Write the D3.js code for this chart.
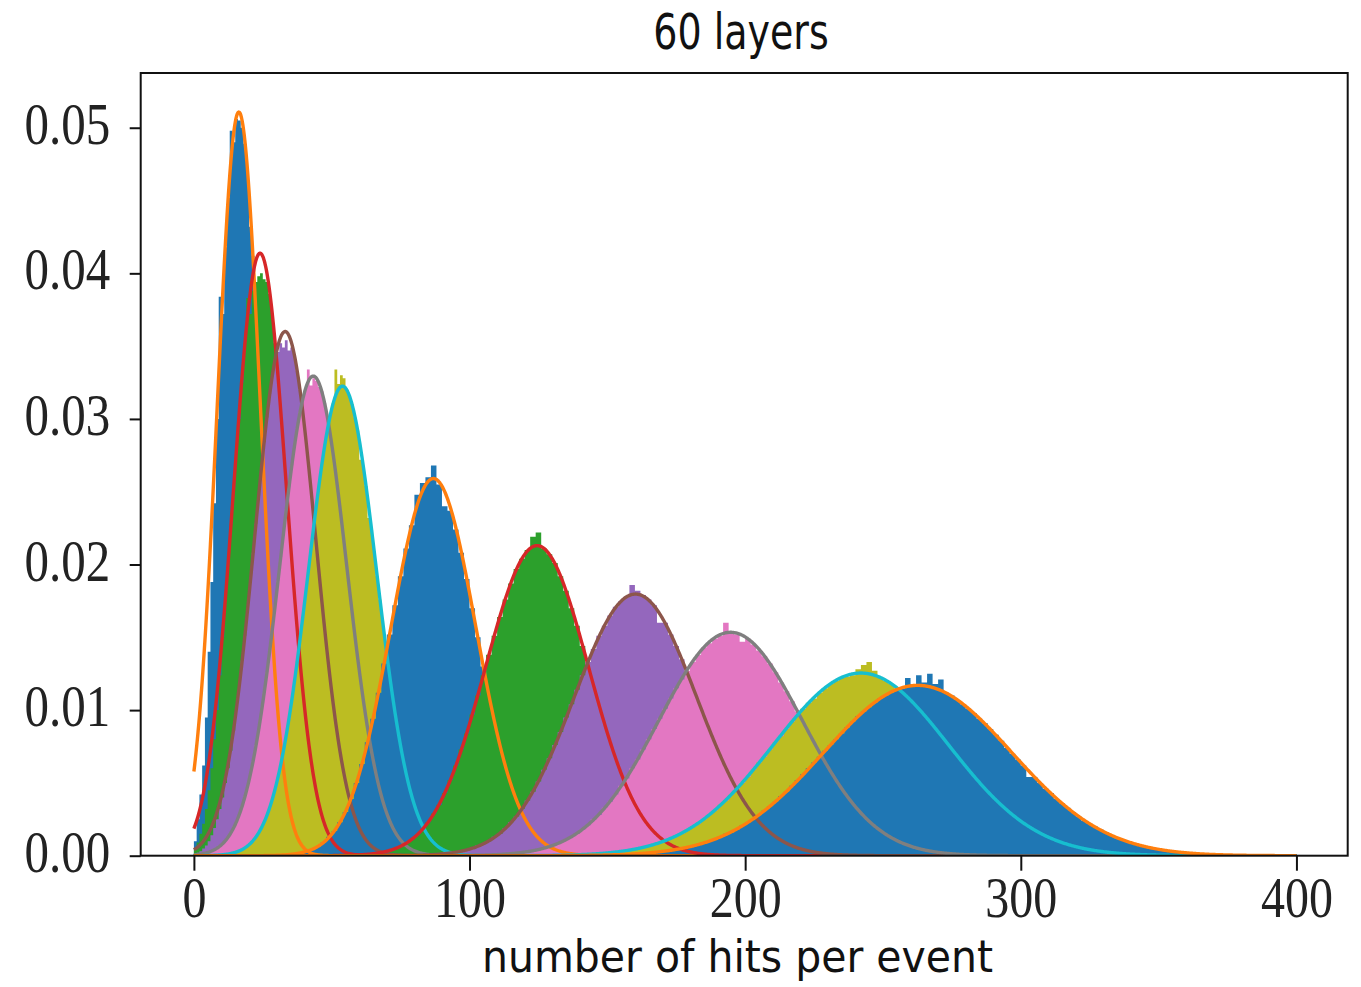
<!DOCTYPE html>
<html>
<head>
<meta charset="utf-8">
<script src="https://cdn.jsdelivr.net/npm/d3@7"></script>
<style>
  body { margin: 0; background: #fff; }
  svg { display: block; }
</style>
</head>
<body>
<svg id="chart" width="1361" height="987"></svg>
<script>
// Hit-count distributions for 60 layers: one histogram and one Gaussian fit per sample.
const titleText = "60 layers";
const xLabelText = "number of hits per event";
const xTicks = [0, 100, 200, 300, 400];
const yTicks = [0, 0.01, 0.02, 0.03, 0.04, 0.05];

const histColors = ["#1f77b4", "#2ca02c", "#9467bd", "#e377c2", "#bcbd22",
                    "#1f77b4", "#2ca02c", "#9467bd", "#e377c2", "#bcbd22", "#1f77b4"];
const fitColors  = ["#ff7f0e", "#d62728", "#8c564b", "#7f7f7f", "#17becf",
                    "#ff7f0e", "#d62728", "#8c564b", "#7f7f7f", "#17becf", "#ff7f0e"];

// Histogram bin layout: first bin edge and bin width (hits)
const histStart = [0, 0, 0, 0, 10, 34, 62, 86, 106, 136, 150];
const histWidth = [1, 1, 1, 1, 1, 2, 2, 2, 2, 2, 2];

// Normalised bin heights, in units of 1e-4
const hist1 = [10,25,42,62,95,140,188,242,300,384,372,418,452,498,490,506,505,500,489,470,
  432,412,370,336,292,258,215,185,150,125,97,78,58,46,33,26,18,13,9,6,4,3,2,1,1];
const hist2 = [5,9,15,22,32,45,60,80,100,124,150,176,202,228,252,278,300,325,352,383,
  372,388,394,398,400,396,394,386,372,352,330,306,283,255,231,204,180,156,135,115,
  97,81,67,54,44,35,28,22,17,13,10,7,5,4,3,2,1,1];
const hist3 = [1,2,3,5,7,10,14,19,25,32,40,50,60,72,86,101,
  117,134,151,169,189,208,228,247,266,284,301,317,330,341,346,352,
  349,354,347,349,343,333,320,305,288,270,251,232,212,192,173,155,
  137,120,105,91,78,66,56,47,39,32,26,21,17,13,11,8,
  6,5,4,3,2,2,1];
const hist4 = [0,1,1,1,2,3,3,4,5,7,8,10,13,16,20,24,
  29,34,41,48,56,65,76,87,99,112,126,141,156,172,189,205,
  222,238,253,268,282,294,305,314,321,334,323,328,326,322,319,311,
  301,289,277,262,247,231,215,199,182,166,150,135,120,107,94,82,
  71,62,53,45,38,32,27,22,18,15,12,10,8,6,5,4,
  3,3,2,2,1,1];
const hist5 = [1,1,1,2,2,3,3,4,5,7,8,10,13,16,19,23,
  28,33,39,46,54,63,72,83,94,107,120,134,149,164,180,195,
  211,227,242,256,270,283,294,303,311,334,324,330,328,320,316,310,
  301,292,272,267,254,232,224,208,192,176,161,146,131,117,104,92,
  81,70,61,52,45,38,32,27,22,18,15,12,10,8,6,5,
  4,3,3,2,2,1,1];
const hist6 = [1,1,2,3,4,6,9,13,
  17,23,30,39,50,63,78,94,
  112,132,152,172,192,211,227,248,
  256,260,268,255,240,237,224,208,
  190,170,150,130,111,92,76,62,
  49,38,30,22,17,12,9,6,
  4,3,2,1,1,1];
const hist7 = [1,1,2,3,4,5,6,9,
  11,14,18,23,29,35,43,52,
  62,73,84,97,110,124,138,151,
  164,176,187,197,204,210,219,222,
  211,207,201,192,182,170,158,144,
  131,117,104,91,78,67,57,47,
  39,32,26,21,16,13,10,7,
  6,4,3,2,2,1,1];
const hist8 = [1,1,1,2,2,3,4,5,
  7,8,10,13,15,19,23,27,
  32,38,44,51,59,67,76,85,
  95,104,114,124,133,142,151,158,
  165,171,175,178,186,182,179,176,
  172,160,160,152,144,135,126,116,
  106,96,87,78,69,60,53,46,
  39,33,28,23,20,16,13,11,
  9,7,5,4,3,3,2,2,
  1,1,1];
const hist9 = [1,1,1,1,1,2,2,3,
  3,4,5,6,8,9,11,13,
  15,18,21,25,28,33,37,42,
  48,53,60,66,73,80,87,94,
  101,108,115,121,127,133,138,143,
  146,149,151,160,153,152,147,149,
  145,141,137,132,126,119,113,106,
  99,92,85,78,71,64,58,52,
  46,41,36,31,27,24,20,17,
  15,12,10,9,7,6,5,4,
  3,3,2,2,1,1,1,1,0];
const hist10 = [1,1,1,1,1,1,2,2,
  2,3,4,4,5,6,7,8,
  9,10,12,14,15,18,20,22,
  25,28,31,35,38,42,46,50,
  54,59,64,68,73,78,82,87,
  92,96,101,105,108,112,115,118,
  120,122,123,124,128,131,133,127,
  122,120,118,115,112,108,105,101,
  96,92,87,82,78,73,68,64,
  59,54,50,46,42,38,35,31,
  28,25,22,20,18,15,14,12,
  10,9,8,7,6,5,4,4,
  3,2,2,2,1,1,1,1,0,0,0];
const hist11 = [1,1,1,1,1,1,2,2,
  2,3,3,4,4,5,6,7,
  8,9,10,11,13,15,16,18,
  21,23,25,28,31,34,37,41,
  44,48,52,56,60,64,68,72,
  76,80,84,88,92,96,99,102,
  105,108,110,112,114,115,122,118,
  124,119,125,118,121,112,110,107,
  104,101,98,94,91,87,83,79,
  74,70,66,62,54,54,50,46,
  43,39,36,33,30,27,24,22,
  20,18,16,14,12,11,10,8,
  7,6,5,5,4,3,3,3,
  2,2,2,1,1,1,1,1,0,0,0];
const histValues = [hist1, hist2, hist3, hist4, hist5, hist6, hist7, hist8, hist9, hist10, hist11];
const histUnit = 1e-4;

// Gaussian fit parameters for each sample (mean, standard deviation in hits)
const fitMean  = [16.3, 24.0, 33.1, 43.3, 53.9, 86.9, 124.5, 160.2, 194.7, 242.0, 262.6];
const fitSigma = [7.81, 9.64, 11.08, 12.11, 12.37, 15.4, 18.73, 22.2, 26.0, 31.8, 34.1];
const fitRange = [0, 400];

// ---- layout ----
const plot = { left: 140.7, right: 1347.7, top: 73, bottom: 855.7 };
const svg = d3.select("#chart");

const x = d3.scaleLinear().domain([-19.3, 418.6]).range([plot.left, plot.right]);
const y = d3.scaleLinear().domain([0, 0.05376]).range([plot.bottom, plot.top]);

svg.append("defs").append("clipPath").attr("id", "plot-clip")
  .append("rect")
  .attr("x", plot.left).attr("y", plot.top)
  .attr("width", plot.right - plot.left).attr("height", plot.bottom - plot.top);

const marks = svg.append("g").attr("clip-path", "url(#plot-clip)");

// ---- histograms (filled step areas) ----
const stepArea = d3.area()
  .x(d => x(d.edge))
  .y0(y(0))
  .y1(d => y(d.value))
  .curve(d3.curveStepAfter);

histValues.forEach((vals, s) => {
  const pts = vals.map((v, i) => ({ edge: histStart[s] + i * histWidth[s], value: v * histUnit }));
  pts.push({ edge: histStart[s] + vals.length * histWidth[s], value: vals[vals.length - 1] * histUnit });
  marks.append("path")
    .attr("d", stepArea(pts))
    .attr("fill", histColors[s]);
});

// ---- Gaussian fits ----
const fitLine = d3.line().x(d => x(d[0])).y(d => y(d[1]));
const fitXs = d3.range(fitRange[0], fitRange[1] + 0.001, 0.25);
fitMean.forEach((mu, s) => {
  const sd = fitSigma[s];
  const norm = 1 / (sd * Math.sqrt(2 * Math.PI));
  const pts = fitXs.map(v => [v, norm * Math.exp(-((v - mu) ** 2) / (2 * sd * sd))]);
  marks.append("path")
    .attr("d", fitLine(pts))
    .attr("fill", "none")
    .attr("stroke", fitColors[s])
    .attr("stroke-width", 3.4)
    .attr("stroke-linejoin", "round");
});

// ---- frame ----
svg.append("rect")
  .attr("x", plot.left).attr("y", plot.top)
  .attr("width", plot.right - plot.left).attr("height", plot.bottom - plot.top)
  .attr("fill", "none").attr("stroke", "#111").attr("stroke-width", 2);

// ---- axes ----
const tickFont = "'Liberation Serif', 'Times New Roman', serif";
const stretch = 1.2;

const xAxis = svg.append("g")
  .attr("transform", `translate(0,${plot.bottom})`)
  .call(d3.axisBottom(x).tickValues(xTicks).tickSize(15).tickSizeOuter(0).tickFormat(d3.format("d")));
xAxis.select(".domain").remove();
xAxis.selectAll(".tick line").attr("stroke", "#111").attr("stroke-width", 2);
xAxis.selectAll(".tick text")
  .attr("y", null).attr("dy", null)
  .attr("transform", `translate(0,61) scale(1,${stretch})`)
  .attr("text-anchor", "middle")
  .attr("fill", "#222")
  .style("font-family", tickFont).style("font-size", "48px");

const yAxis = svg.append("g")
  .attr("transform", `translate(${plot.left},0)`)
  .call(d3.axisLeft(y).tickValues(yTicks).tickSize(11).tickSizeOuter(0).tickFormat(d3.format(".2f")));
yAxis.select(".domain").remove();
yAxis.selectAll(".tick line").attr("stroke", "#111").attr("stroke-width", 2);
yAxis.selectAll(".tick text")
  .attr("x", null).attr("dy", null)
  .attr("transform", `translate(-30.5,15.6) scale(1,${stretch})`)
  .attr("text-anchor", "end")
  .attr("fill", "#222")
  .style("font-family", tickFont).style("font-size", "49px");

// ---- title and axis label ----
const labelFont = "'DejaVu Sans', sans-serif";
svg.append("text")
  .attr("transform", `translate(741,49.3) scale(1,1.3)`)
  .attr("text-anchor", "middle")
  .attr("fill", "#111")
  .style("font-family", labelFont).style("font-size", "38px")
  .text(titleText);

svg.append("text")
  .attr("transform", `translate(737.5,972) scale(1,1.1)`)
  .attr("text-anchor", "middle")
  .attr("fill", "#111")
  .style("font-family", labelFont).style("font-size", "41px")
  .text(xLabelText);
</script>
</body>
</html>
